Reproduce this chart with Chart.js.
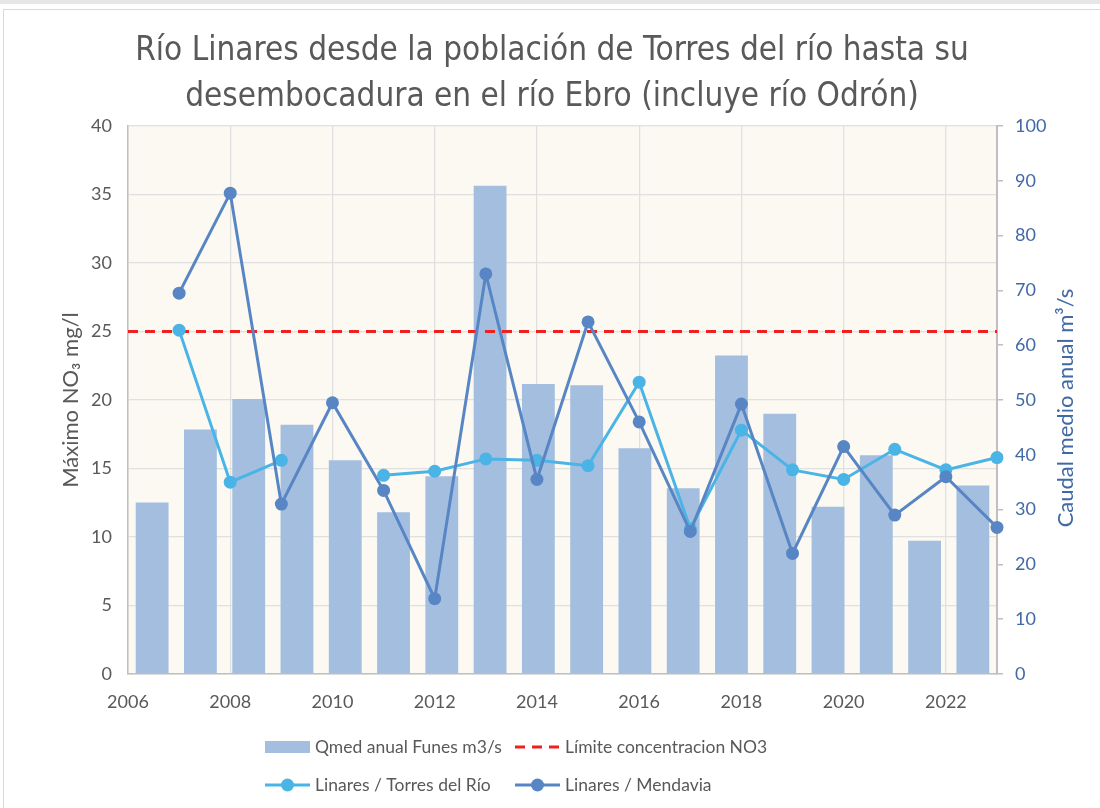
<!DOCTYPE html>
<html lang="es">
<head>
<meta charset="utf-8">
<title>Río Linares - NO3 y caudal</title>
<script src="https://cdn.jsdelivr.net/npm/chart.js@4.4.1/dist/chart.umd.min.js"></script>
<style>
  html, body { margin: 0; padding: 0; background: #fff; }
  body { width: 1100px; height: 808px; overflow: hidden; position: relative; }
  .strip { position: absolute; left: 0; top: 0; width: 1100px; height: 4px; background: #e6e6e6; }
  .frame {
    position: absolute; left: 3px; top: 9px; width: 1097px; height: 799px;
    border-top: 1px solid #d9d9d9; border-left: 1px solid #d9d9d9; box-sizing: border-box;
  }
</style>
</head>
<body>
<div class="strip"></div>
<div class="frame"><canvas id="linaresChart"></canvas></div>

<script>
/* ------------------------------------------------------------
   DATOS
------------------------------------------------------------- */
const TITLE_LINES = [
    "Río Linares desde la población de Torres del río hasta su",
    "desembocadura en el río Ebro (incluye río Odrón)"
];

// años de los puntos (eje X de valores)
const YEARS = [2007, 2008, 2009, 2010, 2011, 2012, 2013, 2014, 2015, 2016, 2017, 2018, 2019, 2020, 2021, 2022, 2023];

// máximo NO3 mg/l
const TORRES = [25.1, 14.0, 15.6, null, 14.5, 14.8, 15.7, 15.6, 15.2, 21.3, 10.6, 17.8, 14.9, 14.2, 16.4, 14.9, 15.8];
const MENDAVIA = [27.8, 35.1, 12.4, 19.8, 13.4, 5.5, 29.2, 14.2, 25.7, 18.4, 10.4, 19.7, 8.8, 16.6, 11.6, 14.4, 10.7];

// caudal medio anual Funes (barras, eje de categorías propio)
const BAR_YEARS = ["2006", "2007", "2008", "2009", "2010", "2011", "2012", "2013", "2014",
                   "2015", "2016", "2017", "2018", "2019", "2020", "2021", "2022", "2023"];
const QMED = [31.3, 44.6, 50.2, 45.5, 39.0, 29.5, 36.1, 89.1, 52.9, 52.7, 41.2, 33.9, 58.1, 47.5, 30.5, 39.9, 24.3, 34.4];

const LIMIT_NO3 = 25;
const X_RANGE = [2006, 2023];

/* ------------------------------------------------------------
   ESTILO
------------------------------------------------------------- */
const GRAY = "#595959";
const BLUE_TEXT = "#4169A6";
const BAR_COLOR = "#A4BEDF";
const LIGHT_LINE = "#4BB4E6";
const DARK_LINE = "#5886C4";
const LIMIT_COLOR = "#F02020";
const GRID = "#E0E0E0";
const AXIS = "#BFBFBF";
const TITLE_FONT = "'Liberation Sans Narrow', 'DejaVu Sans Condensed', Lato, sans-serif";
const TEXT_FONT = "Lato, 'Open Sans', sans-serif";

Chart.defaults.font.family = TEXT_FONT;
Chart.defaults.font.size = 18;
Chart.defaults.color = GRAY;

/* ------------------------------------------------------------
   PLUGINS: fondo del área, título eje derecho, leyenda
------------------------------------------------------------- */
const plotBackground = {
    id: "plotBackground",
    beforeDraw(chart) {
        const { ctx, chartArea: a } = chart;
        ctx.save();
        ctx.fillStyle = "#FBF9F2";
        ctx.fillRect(a.left, a.top, a.right - a.left, a.bottom - a.top);
        ctx.restore();
    }
};

const rightTitle = {
    id: "rightTitle",
    afterDraw(chart) {
        const { ctx, chartArea: a } = chart;
        ctx.save();
        ctx.translate(1062, (a.top + a.bottom) / 2 + 8);
        ctx.rotate(-Math.PI / 2);
        ctx.font = "22px " + TEXT_FONT;
        ctx.fillStyle = BLUE_TEXT;
        ctx.textAlign = "center";
        ctx.textBaseline = "middle";
        ctx.fillText("Caudal medio anual m³/s", 0, 0);
        ctx.restore();
    }
};

const gridLegend = {
    id: "gridLegend",
    afterDraw(chart) {
        const ctx = chart.ctx;
        const cx = chart.width / 2;
        const colX = [cx - 287, cx - 37];
        const rowY = [737, 775];
        const sw = 45;

        chart.data.datasets.forEach((ds, i) => {
            const x = colX[i % 2];
            const y = rowY[Math.floor(i / 2)];
            ctx.save();
            if (ds.type === "bar") {
                ctx.fillStyle = ds.backgroundColor;
                ctx.fillRect(x, y - 6, sw, 12);
            } else {
                ctx.strokeStyle = ds.borderColor;
                ctx.lineWidth = ds.borderWidth;
                ctx.setLineDash(ds.borderDash || []);
                ctx.beginPath();
                ctx.moveTo(x, y);
                ctx.lineTo(x + sw, y);
                ctx.stroke();
                if (ds.pointRadius) {
                    ctx.fillStyle = ds.borderColor;
                    ctx.beginPath();
                    ctx.arc(x + sw / 2, y, ds.pointRadius, 0, Math.PI * 2);
                    ctx.fill();
                }
            }
            ctx.font = "17.5px " + TEXT_FONT;
            ctx.fillStyle = GRAY;
            ctx.textAlign = "left";
            ctx.textBaseline = "middle";
            ctx.fillText(ds.label, x + sw + 5, y);
            ctx.restore();
        });
    }
};

/* ------------------------------------------------------------
   GRÁFICO
------------------------------------------------------------- */
const canvas = document.querySelector("#linaresChart");

new Chart(canvas, {
    type: "line",
    data: {
        datasets: [
            {
                type: "bar",
                label: "Qmed anual Funes m3/s",
                data: QMED,
                xAxisID: "xb",
                yAxisID: "y2",
                backgroundColor: BAR_COLOR,
                grouped: false,
                barPercentage: 0.68,
                categoryPercentage: 1,
                order: 4
            },
            {
                type: "line",
                label: "Límite concentracion NO3",
                data: X_RANGE.map(yr => ({ x: yr, y: LIMIT_NO3 })),
                xAxisID: "x",
                yAxisID: "y",
                borderColor: LIMIT_COLOR,
                borderWidth: 3,
                borderDash: [10, 7],
                pointRadius: 0,
                fill: false,
                order: 3
            },
            {
                type: "line",
                label: "Linares / Torres del Río",
                data: YEARS.map((yr, i) => ({ x: yr, y: TORRES[i] })),
                xAxisID: "x",
                yAxisID: "y",
                borderColor: LIGHT_LINE,
                backgroundColor: LIGHT_LINE,
                borderWidth: 3,
                pointRadius: 6.5,
                pointBorderWidth: 0,
                spanGaps: false,
                clip: false,
                order: 2
            },
            {
                type: "line",
                label: "Linares / Mendavia",
                data: YEARS.map((yr, i) => ({ x: yr, y: MENDAVIA[i] })),
                xAxisID: "x",
                yAxisID: "y",
                borderColor: DARK_LINE,
                backgroundColor: DARK_LINE,
                borderWidth: 3,
                pointRadius: 6.5,
                pointBorderWidth: 0,
                clip: false,
                order: 1
            }
        ]
    },
    options: {
        responsive: true,
        maintainAspectRatio: false,
        animation: false,
        layout: { padding: { top: 0, left: 0, right: 0, bottom: 84 } },
        plugins: {
            legend: { display: false },
            tooltip: { enabled: false },
            title: {
                display: true,
                text: TITLE_LINES,
                color: GRAY,
                font: { family: TITLE_FONT, size: 33, weight: "normal", lineHeight: "46px" },
                padding: { top: 18, bottom: 6 }
            }
        },
        scales: {
            x: {
                type: "linear",
                position: "bottom",
                min: X_RANGE[0],
                max: X_RANGE[1],
                offset: false,
                ticks: {
                    stepSize: 2,
                    includeBounds: false,
                    color: GRAY,
                    padding: 17,
                    callback: v => String(v)
                },
                grid: { color: GRID, lineWidth: 1.3, drawTicks: false },
                border: { color: AXIS, width: 1.5 },
                afterFit(scale) { scale.height = 50; }
            },
            xb: {
                type: "category",
                labels: BAR_YEARS,
                offset: true,
                display: false,
                grid: { offset: true }
            },
            y: {
                position: "left",
                min: 0,
                max: 40,
                ticks: { stepSize: 5, color: GRAY, padding: 16 },
                grid: { color: GRID, lineWidth: 1.3, drawTicks: false },
                border: { color: AXIS, width: 1.5 },
                title: {
                    display: true,
                    text: "Máximo NO₃ mg/l",
                    color: GRAY,
                    font: { size: 22 },
                    padding: { top: 54, bottom: 0 }
                },
                afterFit(scale) { scale.width = 124; }
            },
            y2: {
                position: "right",
                min: 0,
                max: 100,
                ticks: { stepSize: 10, color: BLUE_TEXT, padding: 12 },
                grid: { drawOnChartArea: false, drawTicks: true, tickLength: 6, color: AXIS, lineWidth: 1.5 },
                border: { color: AXIS, width: 2 },
                afterFit(scale) { scale.width = 103; }
            }
        }
    },
    plugins: [plotBackground, rightTitle, gridLegend]
});
</script>
</body>
</html>
